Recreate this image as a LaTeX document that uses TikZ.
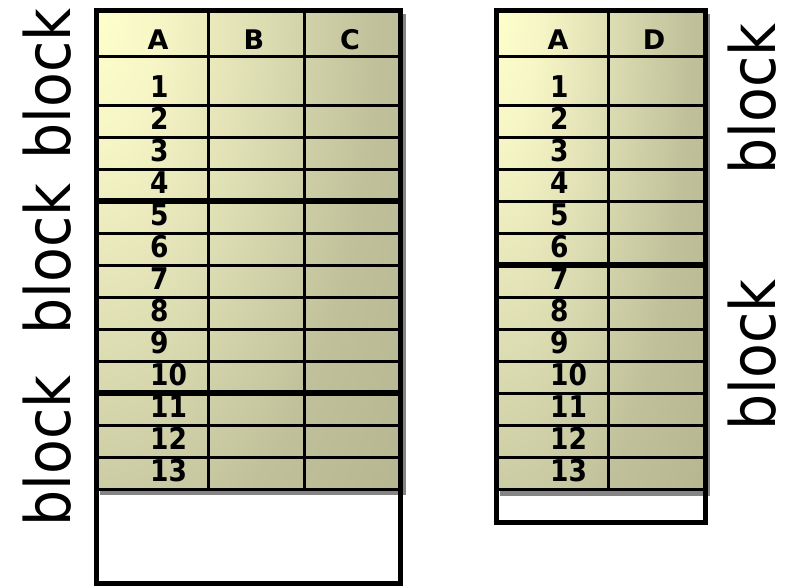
\documentclass[tikz,border=0pt]{standalone}
\usepackage{fontspec}
\setmainfont{DejaVu Sans}
\definecolor{shA}{HTML}{FFFFCC}
\definecolor{shB}{HTML}{F6F6C6}
\definecolor{shC}{HTML}{DCDCB2}
\definecolor{shD}{HTML}{C0C09A}
\definecolor{shE}{HTML}{B2B28C}
\definecolor{shF}{HTML}{AAAA86}
\definecolor{shadowgray}{HTML}{858585}
\pgfdeclareradialshading{tblshade}{\pgfpoint{0bp}{0bp}}{color(0bp)=(shA); color(5bp)=(shB); color(14bp)=(shC); color(23bp)=(shD); color(35bp)=(shE); color(53bp)=(shF); color(75bp)=(shF)}
\begin{document}
\begin{tikzpicture}[x=1pt,y=-1pt,
  thinln/.style={line width=3pt,black},
  thickln/.style={line width=5.5pt,black},
  borderln/.style={line width=5pt,black},
  hdr/.style={font=\fontsize{27}{27}\selectfont\bfseries,anchor=base,inner sep=0pt},
  num/.style={font=\fontsize{26.5}{26.5}\selectfont\bfseries,anchor=base west,inner sep=0pt},
  blk/.style={font=\fontsize{57}{57}\selectfont,rotate=90,anchor=base,inner sep=0pt}]
\useasboundingbox (0,0) rectangle (787,586);
% ---------- left table ----------
\fill[white] (96.5,10.5) rectangle (400.5,583.5);
\fill[shadowgray] (100,14) rectangle (406,495);
\begin{scope}
  \clip (96.5,10.5) rectangle (400.5,489.5);
  \shade[shading=tblshade] (-207.5,-612.5) rectangle (400.5,633.5);
\end{scope}
\foreach \yy in {57,105,137,...,489} \draw[thinln] (96.5,\yy) -- (400.5,\yy);
\draw[thinln] (208,10.5) -- (208,489.5);
\draw[thinln] (304,10.5) -- (304,489.5);
\draw[thickln] (94,201) -- (403,201);
\draw[thickln] (94,393) -- (403,393);
\draw[borderln] (96.5,10.5) rectangle (400.5,583.5);
\node[hdr] (LA) at (158,50) {A};
\node[hdr] (LB) at (254,50) {B};
\node[hdr] (LC) at (350,50) {C};
\foreach \i in {1,...,13}
  \node[num] (Ln\i) at (150,{97+32*(\i-1)}) {\scalebox{1}[1.13]{\i}};
% ---------- right table ----------
\fill[white] (496.5,10.5) rectangle (705.5,522.5);
\fill[shadowgray] (500,14) rectangle (710,496);
\begin{scope}
  \clip (496.5,10.5) rectangle (705.5,489.5);
  \shade[shading=tblshade] (287.5,-612.5) rectangle (705.5,633.5);
\end{scope}
\foreach \yy in {57,105,137,...,489} \draw[thinln] (496.5,\yy) -- (705.5,\yy);
\draw[thinln] (608,10.5) -- (608,489.5);
\draw[thickln] (494,265) -- (708,265);
\draw[borderln] (496.5,10.5) rectangle (705.5,522.5);
\node[hdr] (RA) at (558,50) {A};
\node[hdr] (RD) at (654,50) {D};
\foreach \i in {1,...,13}
  \node[num] (Rn\i) at (550,{97+32*(\i-1)}) {\scalebox{1}[1.13]{\i}};
% ---------- labels ----------
\node[blk] (bl1) at (70,84) {\scalebox{1}[1.1]{block}};
\node[blk] (bl2) at (70,259) {\scalebox{1}[1.1]{block}};
\node[blk] (bl3) at (70,451) {\scalebox{1}[1.1]{block}};
\node[blk] (br1) at (775,99) {\scalebox{1}[1.1]{block}};
\node[blk] (br2) at (775,355) {\scalebox{1}[1.1]{block}};
\end{tikzpicture}
\end{document}
